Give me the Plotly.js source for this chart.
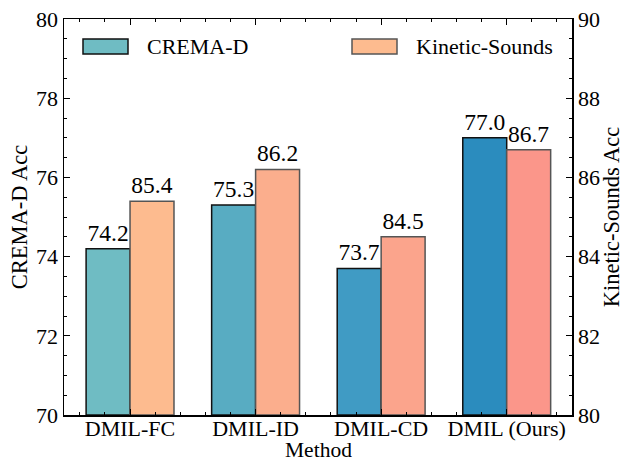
<!DOCTYPE html>
<html>
<head>
<meta charset="utf-8">
<script src="https://cdn.plot.ly/plotly-3.0.1.min.js"></script>
<style>html,body{margin:0;padding:0;background:#fff;}#chart{width:624px;height:463px;}</style>
</head>
<body>
<div id="chart"></div>
<script>
const methods = ["DMIL-FC", "DMIL-ID", "DMIL-CD", "DMIL (Ours)"];
const cremaAcc = [74.2, 75.3, 73.7, 77.0];
const kineticAcc = [85.4, 86.2, 84.5, 86.7];
const cremaColors = ["#6fbcc3", "#58acc2", "#409bc4", "#2b8cbe"];
const kineticColors = ["#fdbb8f", "#fbae8d", "#fba48c", "#fb968a"];
const cremaBase = 70;
const kineticBase = 80;

const xs = methods.map((_, i) => i);
const FONT = "Liberation Serif";

const traces = [
  {
    type: "bar", name: "CREMA-D", x: xs, y: cremaAcc.map(v => v - cremaBase), base: cremaBase, yaxis: "y",
    width: 0.35, offset: -0.35,
    marker: {color: cremaColors, line: {color: "#111", width: 1.5}},
    text: cremaAcc.map(v => v.toFixed(1)), textposition: "outside",
    constraintext: "none", cliponaxis: false,
    textfont: {family: FONT, size: 23.5, color: "#000"},
    showlegend: false
  },
  {
    type: "bar", name: "Kinetic-Sounds", x: xs, y: kineticAcc.map(v => v - kineticBase), base: kineticBase, yaxis: "y2",
    width: 0.35, offset: 0,
    marker: {color: kineticColors, line: {color: "#555", width: 1.5}},
    text: kineticAcc.map(v => v.toFixed(1)), textposition: "outside",
    constraintext: "none", cliponaxis: false,
    textfont: {family: FONT, size: 23.5, color: "#000"},
    showlegend: false
  }
];

const layout = {
  width: 624, height: 463,
  margin: {l: 64, r: 52, t: 19, b: 48},
  paper_bgcolor: "#fff", plot_bgcolor: "#fff",
  font: {family: FONT, color: "#000", size: 22},
  barmode: "overlay",
  showlegend: false,
  xaxis: {
    range: [-0.526, 3.52], tickvals: xs, ticktext: methods,
    ticks: "inside", ticklen: 6, tickwidth: 1, tickcolor: "#000",
    minor: {dtick: 0.2, tick0: 0, ticks: "inside", ticklen: 3, tickcolor: "#000", tickwidth: 1},
    showline: true, linecolor: "#000", linewidth: 1.5, mirror: "ticks",
    showgrid: false, zeroline: false,
    ticklabelstandoff: -7,
    tickfont: {family: FONT, size: 22}
  },
  yaxis: {
    range: [70, 80], dtick: 2, tick0: 70,
    ticks: "inside", ticklen: 6, tickwidth: 1, tickcolor: "#000",
    minor: {dtick: 0.5, tick0: 70, ticks: "inside", ticklen: 3, tickcolor: "#000", tickwidth: 1},
    showline: true, linecolor: "#000", linewidth: 1.5, mirror: false,
    showgrid: false, zeroline: false,
    tickfont: {family: FONT, size: 22},
    title: {text: "CREMA-D Acc", font: {family: FONT, size: 22.5}, standoff: 2}
  },
  yaxis2: {
    overlaying: "y", side: "right",
    range: [80, 90], dtick: 2, tick0: 80,
    ticks: "inside", ticklen: 6, tickwidth: 1, tickcolor: "#000",
    minor: {dtick: 0.5, tick0: 80, ticks: "inside", ticklen: 3, tickcolor: "#000", tickwidth: 1},
    showline: true, linecolor: "#000", linewidth: 1.5,
    showgrid: false, zeroline: false,
    tickfont: {family: FONT, size: 22},
    title: {text: "Kinetic-Sounds Acc", font: {family: FONT, size: 22.5}, standoff: 2}
  },
  shapes: [
    {type: "rect", xref: "paper", yref: "paper",
     x0: (83-64)/508, x1: (128-64)/508, y0: (415-54)/396, y1: (415-39)/396,
     fillcolor: cremaColors[0], line: {color: "#111", width: 1.5}},
    {type: "rect", xref: "paper", yref: "paper",
     x0: (352-64)/508, x1: (397-64)/508, y0: (415-54)/396, y1: (415-39)/396,
     fillcolor: kineticColors[0], line: {color: "#555", width: 1.5}}
  ],
  annotations: [
    {xref: "paper", yref: "paper", x: (145-64)/508, y: (415-46.5)/396, xanchor: "left", yanchor: "middle",
     text: "CREMA-D", showarrow: false, font: {family: FONT, size: 22}},
    {xref: "paper", yref: "paper", x: (414-64)/508, y: (415-46.5)/396, xanchor: "left", yanchor: "middle",
     text: "Kinetic-Sounds", showarrow: false, font: {family: FONT, size: 22}},
    {xref: "paper", yref: "paper", x: 0.5, y: (415-450)/396, xanchor: "center", yanchor: "middle",
     borderpad: 0, text: "Method", showarrow: false, font: {family: FONT, size: 21.5}}
  ]
};

Plotly.newPlot("chart", traces, layout, {displayModeBar: false, staticPlot: true});
</script>
</body>
</html>
